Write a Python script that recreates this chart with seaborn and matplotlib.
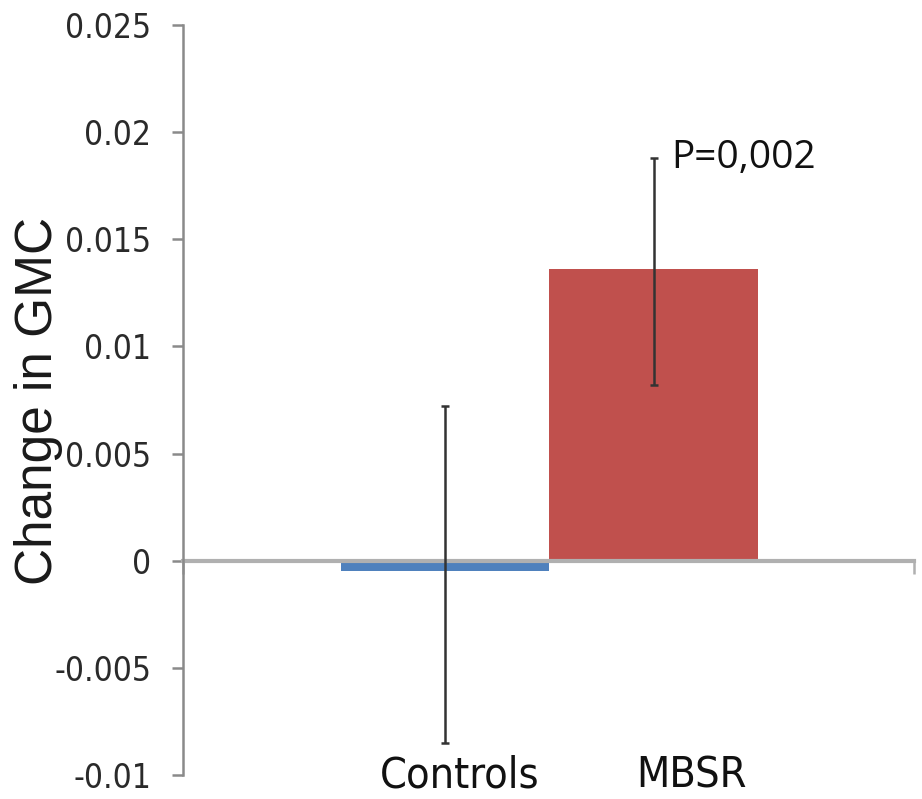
import matplotlib
matplotlib.use("Agg")
import matplotlib.pyplot as plt
from matplotlib.transforms import ScaledTranslation, blended_transform_factory
from matplotlib import font_manager
import seaborn as sns
import pandas as pd

# ---- data ----
categories = ["Controls", "MBSR"]
values = [-0.0005, 0.0136]
err_low = [-0.0085, 0.0082]
err_high = [0.0072, 0.0188]
colors = ["#4F81BD", "#C0504D"]
y_ticks = [-0.01, -0.005, 0, 0.005, 0.01, 0.015, 0.02, 0.025]
y_tick_labels = ["-0.01", "-0.005", "0", "0.005", "0.01", "0.015", "0.02", "0.025"]
annotation = "P=0,002"
y_label = "Change in GMC"

sns.set_theme(style="white")
plt.rcParams["font.family"] = ["Liberation Sans", "DejaVu Sans"]

# pick a condensed face if one is installed
narrow_props = None
for f in font_manager.fontManager.ttflist:
    n = f.fname.lower()
    if "narrow" in n and "liberation" in n and "bold" not in n and "italic" not in n:
        narrow_props = font_manager.FontProperties(fname=f.fname)
        break
if narrow_props is None:
    for f in font_manager.fontManager.ttflist:
        n = f.fname.lower()
        if ("condensed" in n) and "bold" not in n and "oblique" not in n and "italic" not in n and "light" not in n:
            narrow_props = font_manager.FontProperties(fname=f.fname)
            break
have_narrow = narrow_props is not None
if narrow_props is None:
    narrow_props = font_manager.FontProperties(family="Liberation Sans")


def nprops(size):
    p = narrow_props.copy()
    p.set_size(size)
    return p


tick_size = 24 if have_narrow else 20
cat_size = 31 if have_narrow else 26

fig = plt.figure(figsize=(9.22, 7.99), dpi=100)
ax = fig.add_axes([183 / 922, 1 - 775 / 799, (914 - 183) / 922, (775 - 25) / 799])

df = pd.DataFrame({"cat": categories, "val": values})
sns.barplot(data=df, x="cat", y="val", hue="cat", palette=colors, width=1.0,
            errorbar=None, legend=False, ax=ax, saturation=1, linewidth=0)

lo = [v - l for v, l in zip(values, err_low)]
hi = [h - v for v, h in zip(values, err_high)]
ax.errorbar(range(len(categories)), values, yerr=[lo, hi], fmt="none",
            ecolor="#333333", elinewidth=1.8, capsize=3, capthick=1.8, zorder=5)

xmin, xmax = -1.256, 2.248
ax.set_xlim(xmin, xmax)
ax.set_ylim(-0.01, 0.025)

# axes styling
for s in ["top", "right"]:
    ax.spines[s].set_visible(False)
ax.spines["left"].set_color("#8a8a8a")
ax.spines["left"].set_linewidth(1.8)
ax.spines["bottom"].set_position(("data", 0))
ax.spines["bottom"].set_color("#b0b0b0")
ax.spines["bottom"].set_linewidth(3)
ax.spines["bottom"].set_zorder(1)

ax.set_yticks(y_ticks)
ax.set_yticklabels(y_tick_labels, fontproperties=nprops(tick_size), color="#2a2a2a")
ax.tick_params(axis="y", direction="out", length=8, width=1.8, color="#8a8a8a", pad=15, left=True)
ax.set_xticks([xmin, xmax])
ax.set_xticklabels(["", ""])
ax.tick_params(axis="x", direction="out", length=9, width=1.8, color="#b0b0b0", bottom=True)
ax.set_xlabel("")
ax.set_ylabel("")

fig.text(39 / 922, 1 - 401 / 799, y_label, rotation=90, ha="center", va="center",
         fontsize=37, color="#1a1a1a", fontfamily="Liberation Sans")

# category labels at the bottom
trans = blended_transform_factory(ax.transData, ax.transAxes)
offsets = [15, 38]
for i, (c, dx) in enumerate(zip(categories, offsets)):
    ax.text(i, 0, c, transform=trans + ScaledTranslation(dx / 100, 0, fig.dpi_scale_trans),
            ha="center", va="center", fontproperties=nprops(cat_size), color="#111111")

# annotation
ax.text(1, err_high[1], annotation,
        transform=ax.transData + ScaledTranslation(18 / 100, 0, fig.dpi_scale_trans),
        ha="left", va="center", fontsize=28, fontfamily="Open Sans", color="#111111")

fig.savefig("out.png", dpi=100)
